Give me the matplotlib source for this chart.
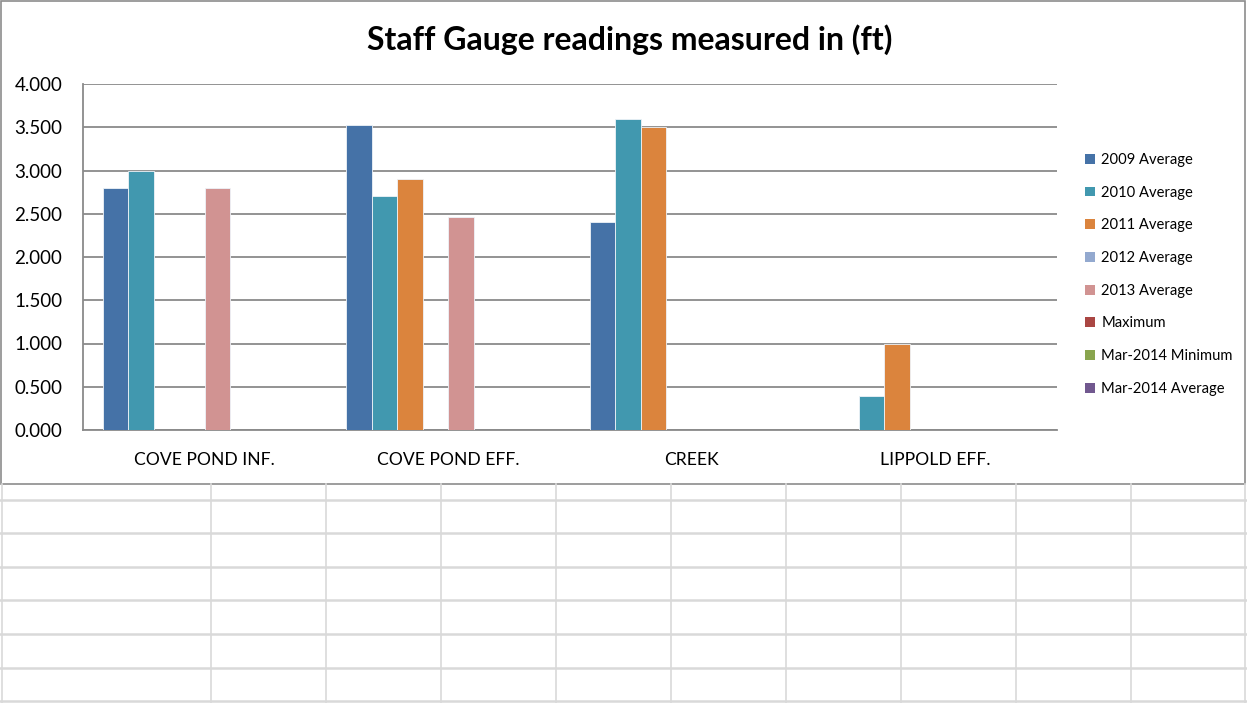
import numpy as np
import matplotlib
matplotlib.use("Agg")
import matplotlib.pyplot as plt
from matplotlib.patches import Rectangle, Patch
from matplotlib.lines import Line2D

# ---- data ----
categories = ["COVE POND INF.", "COVE POND EFF.", "CREEK", "LIPPOLD EFF."]
series_names = ["2009 Average", "2010 Average", "2011 Average", "2012 Average",
                "2013 Average", "Maximum", "Mar-2014 Minimum", "Mar-2014 Average"]
avg_2009 = [2.80, 3.53, 2.41, np.nan]
avg_2010 = [3.00, 2.70, 3.59, 0.39]
avg_2011 = [np.nan, 2.90, 3.50, 1.00]
avg_2012 = [np.nan, np.nan, np.nan, np.nan]
avg_2013 = [2.80, 2.46, np.nan, np.nan]
maximum = [np.nan, np.nan, np.nan, np.nan]
mar2014_min = [np.nan, np.nan, np.nan, np.nan]
mar2014_avg = [np.nan, np.nan, np.nan, np.nan]
yticks = [0.0, 0.5, 1.0, 1.5, 2.0, 2.5, 3.0, 3.5, 4.0]

series = [avg_2009, avg_2010, avg_2011, avg_2012, avg_2013, maximum, mar2014_min, mar2014_avg]
colors = ["#4572A7", "#4198AF", "#DB843D", "#93A9CF", "#D19392", "#AA4643", "#89A54E", "#71588F"]

W, H = 1247, 703
fig = plt.figure(figsize=(W / 100, H / 100), dpi=100)
plt.rcParams['font.family'] = ['Lato', 'DejaVu Sans']

def fx(px):
    return px / W

def fy(py):
    return 1 - py / H

# spreadsheet grid below chart
grid_c = "#d9d9d9"
for ry in [500, 533, 567, 600, 634, 668, 701]:
    fig.add_artist(Line2D([0, 1], [fy(ry), fy(ry)], color=grid_c, lw=1.8, transform=fig.transFigure))
for cx in [2, 211, 326, 441, 556, 671, 786, 901, 1016, 1131, 1245]:
    fig.add_artist(Line2D([fx(cx), fx(cx)], [fy(484), 0], color=grid_c, lw=1.2, transform=fig.transFigure))

# chart frame
fig.add_artist(Rectangle((fx(1), fy(484)), fx(1245) - fx(1), fy(1) - fy(484),
                         transform=fig.transFigure, fill=True, facecolor="white",
                         edgecolor="#8c8c8c", lw=1.2, zorder=0.5))

ax = fig.add_axes([fx(83), fy(430), fx(1057) - fx(83), fy(84) - fy(430)])
ax.set_zorder(2)
ax.patch.set_alpha(0)

n = len(series)
bw = 25.5 / 243.5
x = np.arange(len(categories))
for k, (vals, c, name) in enumerate(zip(series, colors, series_names)):
    ax.bar(x + (k - (n - 1) / 2) * bw, vals, width=bw, color=c, edgecolor="#eef3f8",
           linewidth=0.6, label=name, zorder=3)

ax.set_xlim(-0.5, len(categories) - 0.5)
ax.set_ylim(0, 4)
ax.set_yticks(yticks)
ax.set_yticklabels([f"{v:.3f}" for v in yticks], fontsize=13.5)
ax.set_xticks(x)
ax.set_xticklabels(categories, fontsize=12.6)
ax.tick_params(axis='both', length=0, colors="#000000")
ax.tick_params(axis='y', pad=15)
ax.tick_params(axis='x', pad=16)
ax.yaxis.grid(True, color="#8a8a8a", lw=1.3, zorder=1)
ax.set_axisbelow(True)
for s in ["top", "right"]:
    ax.spines[s].set_visible(False)
ax.spines["left"].set_color("#8a8a8a")
ax.spines["bottom"].set_color("#8a8a8a")
ax.spines["left"].set_linewidth(1.3)
ax.spines["bottom"].set_linewidth(1.3)

fig.text(fx(630), fy(40), "Staff Gauge readings measured in (ft)", ha="center", va="center",
         fontsize=23, fontweight="bold")

handles = [Patch(facecolor=c, edgecolor="none") for c in colors]
fig.legend(handles, series_names, loc="upper left", bbox_to_anchor=(fx(1085), fy(153)),
           frameon=False, fontsize=10.6, handlelength=0.65, handleheight=0.65,
           handletextpad=0.45, labelspacing=1.27, borderpad=0, borderaxespad=0)

fig.savefig("out.png", dpi=100, facecolor="white")
